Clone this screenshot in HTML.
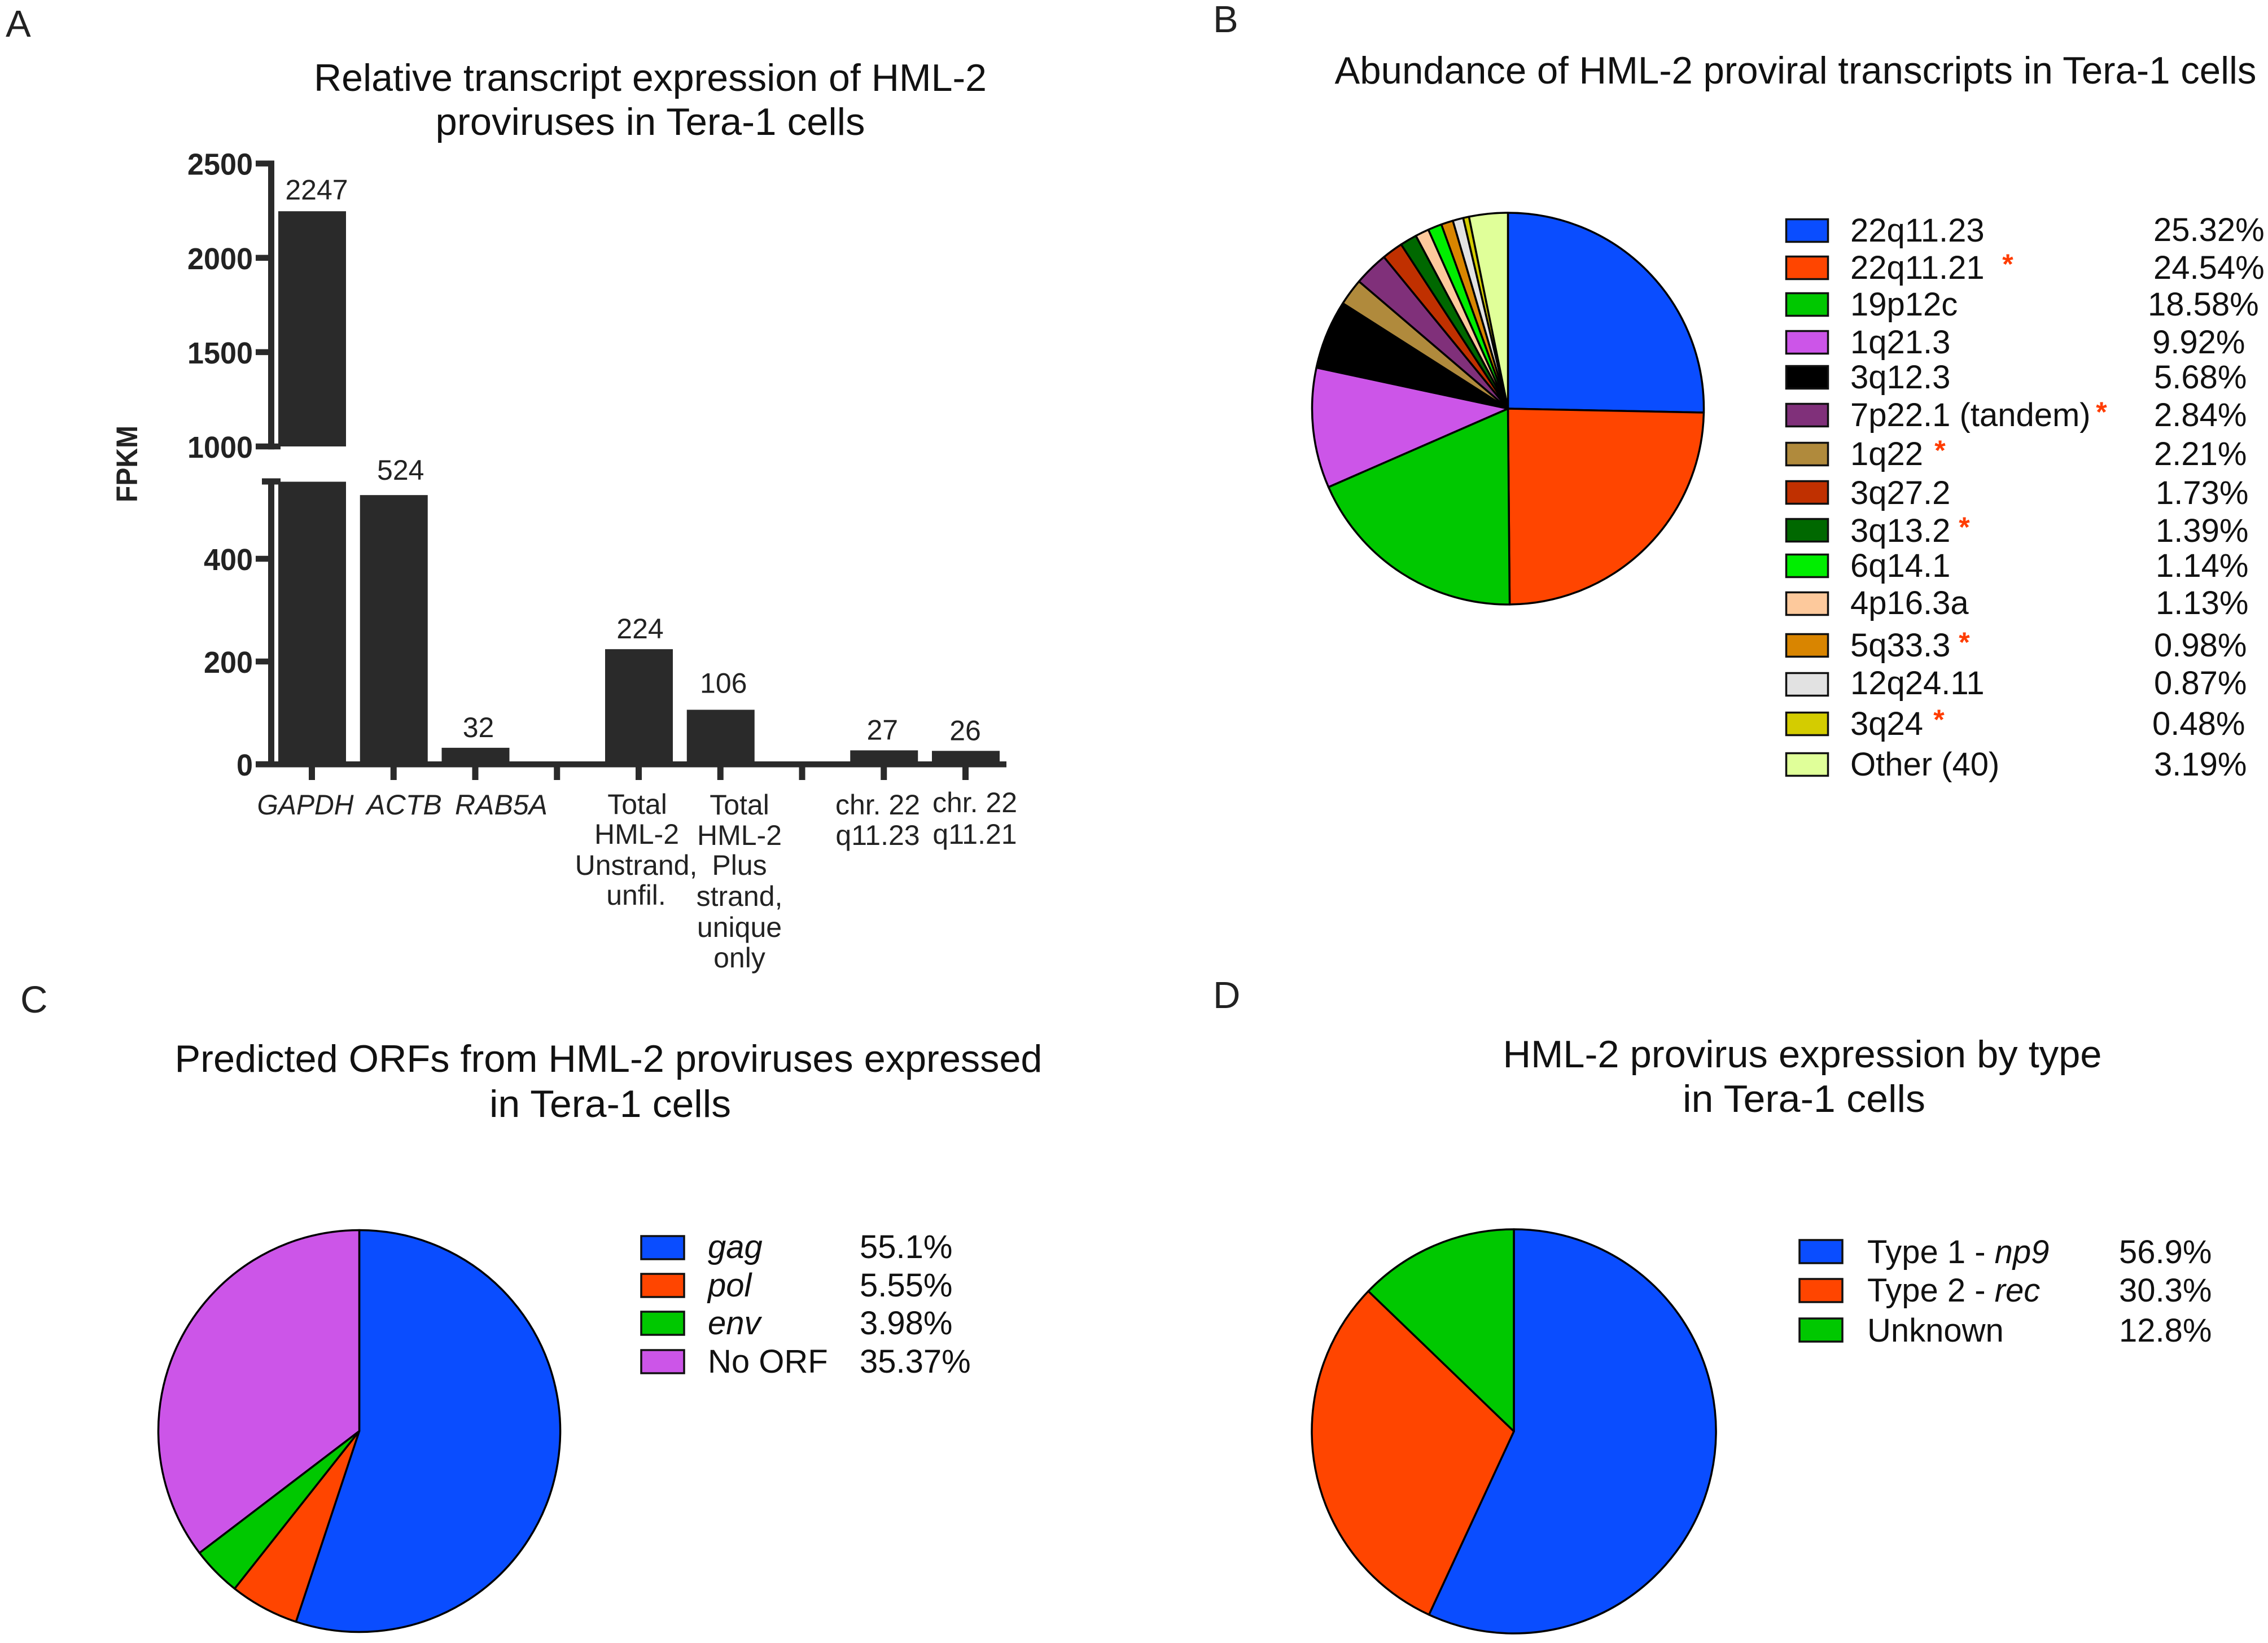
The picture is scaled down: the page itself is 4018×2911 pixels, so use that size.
<!DOCTYPE html>
<html lang="en">
<head>
<meta charset="utf-8">
<title>HML-2 provirus expression in Tera-1 cells</title>
<style>
html,body{margin:0;padding:0;background:#fff;}
svg{display:block;font-family:"Liberation Sans",Arial,sans-serif;}
.title{font-size:68px;fill:#111;text-anchor:middle;}
.panel{font-size:67px;fill:#222;}
.leg{font-size:58px;fill:#111;}
.val{font-size:50px;fill:#222;text-anchor:middle;}
.ylab{font-size:54px;font-weight:bold;fill:#222;text-anchor:end;}
.xlab{font-size:50px;fill:#222;text-anchor:middle;}
.it{font-style:italic;}
.sw{stroke:#111;stroke-width:3.5;}
.star{font-size:50px;font-weight:bold;fill:#ff3c00;text-anchor:middle;}
</style>
</head>
<body>
<svg xmlns="http://www.w3.org/2000/svg" width="4018" height="2911" viewBox="0 0 4018 2911">
<rect x="0" y="0" width="4018" height="2911" fill="#fff"/>

<text class="panel" x="10" y="65">A</text>
<text class="panel" x="2149" y="57">B</text>
<text class="panel" x="36" y="1794">C</text>
<text class="panel" x="2149" y="1786">D</text>

<text class="title" x="1152" y="161" textLength="1192" lengthAdjust="spacingAndGlyphs">Relative transcript expression of HML-2</text>
<text class="title" x="1152" y="239" textLength="761" lengthAdjust="spacingAndGlyphs">proviruses in Tera-1 cells</text>
<text class="title" x="3181" y="148" textLength="1633" lengthAdjust="spacingAndGlyphs">Abundance of HML-2 proviral transcripts in Tera-1 cells</text>
<text class="title" x="1078" y="1899" textLength="1537" lengthAdjust="spacingAndGlyphs">Predicted ORFs from HML-2 proviruses expressed</text>
<text class="title" x="1081" y="1979" textLength="428" lengthAdjust="spacingAndGlyphs">in Tera-1 cells</text>
<text class="title" x="3193" y="1891" textLength="1061" lengthAdjust="spacingAndGlyphs">HML-2 provirus expression by type</text>
<text class="title" x="3196" y="1970" textLength="430" lengthAdjust="spacingAndGlyphs">in Tera-1 cells</text>

<!-- Panel A -->
<g id="bars"></g>
<text transform="translate(243 822) rotate(-90)" font-size="53" font-weight="bold" fill="#222" text-anchor="middle" textLength="136" lengthAdjust="spacingAndGlyphs">FPKM</text>

<!-- Panel A x labels -->
<g>
<text class="xlab it" x="541" y="1443" textLength="171" lengthAdjust="spacingAndGlyphs">GAPDH</text>
<text class="xlab it" x="716" y="1443">ACTB</text>
<text class="xlab it" x="888" y="1443">RAB5A</text>
<text class="xlab"><tspan x="1129" y="1442">Total</tspan><tspan x="1128" y="1495">HML-2</tspan><tspan x="1127" y="1550">Unstrand,</tspan><tspan x="1127" y="1603">unfil.</tspan></text>
<text class="xlab"><tspan x="1310" y="1443">Total</tspan><tspan x="1310" y="1497">HML-2</tspan><tspan x="1310" y="1550">Plus</tspan><tspan x="1310" y="1605">strand,</tspan><tspan x="1310" y="1660">unique</tspan><tspan x="1310" y="1714">only</tspan></text>
<text class="xlab"><tspan x="1555" y="1443">chr. 22</tspan><tspan x="1555" y="1497">q11.23</tspan></text>
<text class="xlab"><tspan x="1727" y="1439">chr. 22</tspan><tspan x="1727" y="1495">q11.21</tspan></text>
</g>

<!-- Panel B -->
<g id="pieB"></g>
<g>
<g><rect class="sw" x="3164.5" y="388.5" width="74" height="40" fill="#0a4dff"/><text class="leg" x="3278" y="428">22q11.23</text><text class="leg" x="3815" y="427">25.32%</text></g>
<g><rect class="sw" x="3164.5" y="454.5" width="74" height="40" fill="#ff4500"/><text class="leg" x="3278" y="494">22q11.21</text><text class="star" x="3557" y="485">*</text><text class="leg" x="3815" y="494">24.54%</text></g>
<g><rect class="sw" x="3164.5" y="519.5" width="74" height="40" fill="#00c800"/><text class="leg" x="3278" y="559">19p12c</text><text class="leg" x="3805" y="559">18.58%</text></g>
<g><rect class="sw" x="3164.5" y="586.5" width="74" height="40" fill="#cc55e8"/><text class="leg" x="3278" y="626">1q21.3</text><text class="leg" x="3813" y="626">9.92%</text></g>
<g><rect class="sw" x="3164.5" y="648.5" width="74" height="40" fill="#000000"/><text class="leg" x="3278" y="688">3q12.3</text><text class="leg" x="3816" y="688">5.68%</text></g>
<g><rect class="sw" x="3164.5" y="715.5" width="74" height="40" fill="#80307a"/><text class="leg" x="3278" y="755">7p22.1 (tandem)</text><text class="star" x="3723" y="747">*</text><text class="leg" x="3816" y="755">2.84%</text></g>
<g><rect class="sw" x="3164.5" y="784.5" width="74" height="40" fill="#b08a3c"/><text class="leg" x="3278" y="824">1q22</text><text class="star" x="3437" y="815">*</text><text class="leg" x="3816" y="824">2.21%</text></g>
<g><rect class="sw" x="3164.5" y="852.5" width="74" height="40" fill="#c03000"/><text class="leg" x="3278" y="893">3q27.2</text><text class="leg" x="3819" y="893">1.73%</text></g>
<g><rect class="sw" x="3164.5" y="919.5" width="74" height="40" fill="#006800"/><text class="leg" x="3278" y="960">3q13.2</text><text class="star" x="3480" y="951">*</text><text class="leg" x="3819" y="960">1.39%</text></g>
<g><rect class="sw" x="3164.5" y="982.5" width="74" height="40" fill="#00ee00"/><text class="leg" x="3278" y="1022">6q14.1</text><text class="leg" x="3819" y="1022">1.14%</text></g>
<g><rect class="sw" x="3164.5" y="1049.5" width="74" height="40" fill="#fdc99c"/><text class="leg" x="3278" y="1088">4p16.3a</text><text class="leg" x="3819" y="1088">1.13%</text></g>
<g><rect class="sw" x="3164.5" y="1123.5" width="74" height="40" fill="#d98500"/><text class="leg" x="3278" y="1163">5q33.3</text><text class="star" x="3480" y="1155">*</text><text class="leg" x="3816" y="1163">0.98%</text></g>
<g><rect class="sw" x="3164.5" y="1192.5" width="74" height="40" fill="#e2e2e2"/><text class="leg" x="3278" y="1230">12q24.11</text><text class="leg" x="3816" y="1230">0.87%</text></g>
<g><rect class="sw" x="3164.5" y="1262.5" width="74" height="40" fill="#d4cc00"/><text class="leg" x="3278" y="1302">3q24</text><text class="star" x="3435" y="1292">*</text><text class="leg" x="3813" y="1302">0.48%</text></g>
<g><rect class="sw" x="3164.5" y="1334.5" width="74" height="40" fill="#e0ff99"/><text class="leg" x="3278" y="1374">Other (40)</text><text class="leg" x="3816" y="1374">3.19%</text></g>
</g>

<!-- Panel C -->
<g id="pieC"></g>
<g>
<g><rect class="sw" x="1136" y="2190" width="76" height="41" fill="#0a4dff"/><text class="leg it" x="1254" y="2229">gag</text><text class="leg" x="1523" y="2229">55.1%</text></g>
<g><rect class="sw" x="1136" y="2257" width="76" height="41" fill="#ff4500"/><text class="leg it" x="1254" y="2297">pol</text><text class="leg" x="1523" y="2297">5.55%</text></g>
<g><rect class="sw" x="1136" y="2324" width="76" height="41" fill="#00c800"/><text class="leg it" x="1254" y="2364">env</text><text class="leg" x="1523" y="2364">3.98%</text></g>
<g><rect class="sw" x="1136" y="2392" width="76" height="41" fill="#cc55e8"/><text class="leg" x="1254" y="2432">No ORF</text><text class="leg" x="1523" y="2432">35.37%</text></g>
</g>

<!-- Panel D -->
<g id="pieD"></g>
<g>
<g><rect class="sw" x="3188" y="2197" width="76" height="41" fill="#0a4dff"/><text class="leg" x="3308" y="2238">Type 1 - <tspan class="it">np9</tspan></text><text class="leg" x="3754" y="2238">56.9%</text></g>
<g><rect class="sw" x="3188" y="2266" width="76" height="41" fill="#ff4500"/><text class="leg" x="3308" y="2306">Type 2 - <tspan class="it">rec</tspan></text><text class="leg" x="3754" y="2306">30.3%</text></g>
<g><rect class="sw" x="3188" y="2336" width="76" height="41" fill="#00c800"/><text class="leg" x="3308" y="2377">Unknown</text><text class="leg" x="3754" y="2377">12.8%</text></g>
</g>
</svg>

<script>
// Panel A data
const barCategories = ["GAPDH", "ACTB", "RAB5A", "", "Total unstranded", "Total plus strand", "", "chr22 q11.23", "chr22 q11.21"];
const barValues = [2247, 524, 32, 0, 224, 106, 0, 27, 26];
const lowerTicks = [0, 200, 400];
const upperTicks = [1000, 1500, 2000, 2500];

// Panel B data, in clockwise slice order as drawn in the pie
const abundanceNames = ["22q11.23", "22q11.21", "19p12c", "1q21.3", "3q12.3", "1q22", "7p22.1", "3q27.2", "3q13.2", "4p16.3a", "6q14.1", "5q33.3", "12q24.11", "3q24", "Other"];
const abundanceValues = [25.32, 24.54, 18.58, 9.92, 5.68, 2.21, 2.84, 1.73, 1.39, 1.13, 1.14, 0.98, 0.87, 0.48, 3.19];
const abundanceColors = ["#0a4dff", "#ff4500", "#00c800", "#cc55e8", "#000000", "#b08a3c", "#80307a", "#c03000", "#006800", "#fdc99c", "#00ee00", "#d98500", "#e2e2e2", "#d4cc00", "#e0ff99"];

// Panel C data
const orfNames = ["gag", "pol", "env", "No ORF"];
const orfValues = [55.1, 5.55, 3.98, 35.37];
const orfColors = ["#0a4dff", "#ff4500", "#00c800", "#cc55e8"];

// Panel D data
const typeNames = ["Type 1", "Type 2", "Unknown"];
const typeValues = [56.9, 30.3, 12.8];
const typeColors = ["#0a4dff", "#ff4500", "#00c800"];

const SVGNS = "http://www.w3.org/2000/svg";
const INK = "#2a2a2a";
const slug = s => s.toLowerCase().replace(/[^a-z0-9]+/g, "-");

function make(tag, attrs, parent) {
  const el = document.createElementNS(SVGNS, tag);
  for (const k in attrs) el.setAttribute(k, attrs[k]);
  parent.appendChild(el);
  return el;
}

// Broken y axis: lower segment 0-550, upper segment 1000-2500
const breakLow = 550, breakHigh = 1000;
function yScale(v) {
  if (v <= breakLow) return 1354 - v * 0.91;
  if (v >= breakHigh) return 791 - (v - breakHigh) * 0.3342;
  return 1354 - breakLow * 0.91;
}
function xLeft(i) { return 493 + i * 144.75; }
function xTick(i) { return 552.5 + i * 144.75; }
const barW = 120;
const labelShift = { 0: [8, 21], 1: [12, 27], 2: [5, 19], 4: [2, 19], 5: [5, 30], 7: [-3, 19], 8: [-1, 19] };

function drawBars() {
  const g = document.getElementById("bars");
  barValues.forEach((v, i) => {
    if (v <= 0) return;
    const x = xLeft(i);
    if (v > breakHigh) {
      const upper = make("rect", { x: x, y: yScale(v), width: barW, height: yScale(breakHigh) - yScale(v), fill: INK }, g);
      
      
      const lower = make("rect", { x: x, y: yScale(breakLow), width: barW, height: yScale(0) - yScale(breakLow), fill: INK }, g);
      
      
    } else {
      const bar = make("rect", { x: x, y: yScale(v), width: barW, height: yScale(0) - yScale(v), fill: INK }, g);
      
      
    }
    const s = labelShift[i] || [0, 20];
    const t = make("text", { x: x + barW / 2 + s[0], y: yScale(v) - s[1], "class": "val" }, g);
    
    
    t.textContent = v;
  });

  // axes
  const yUp = make("rect", { x: 475, y: yScale(2500) - 5.25, width: 11, height: yScale(breakHigh) - yScale(2500) + 10.5, fill: INK }, g);
  
  
  const yLow = make("rect", { x: 475, y: yScale(breakLow) - 6, width: 11, height: yScale(0) - yScale(breakLow) + 6, fill: INK }, g);
  
  
  const capLow = make("rect", { x: 464, y: yScale(breakLow) - 6, width: 33, height: 11, fill: INK }, g);
  
  
  const xAxis = make("rect", { x: 453, y: yScale(0) - 5, width: 1330, height: 10.5, fill: INK }, g);
  
  

  lowerTicks.concat(upperTicks).forEach(v => {
    const isBreak = v === 1000;
    const tick = make("rect", { x: 453, y: yScale(v) - 5.25, width: isBreak ? 44 : 24, height: 10.5, fill: INK }, g);
    
    
    const lab = make("text", { x: 448, y: yScale(v) + 20, "class": "ylab", textLength: String(v).length * 29, lengthAdjust: "spacingAndGlyphs" }, g);
    
    
    lab.textContent = v;
  });

  barCategories.forEach((c, i) => {
    const tick = make("rect", { x: xTick(i) - 5.5, y: yScale(0), width: 11, height: 28, fill: INK }, g);
    
    
  });
}

function drawPie(id, cx, cy, r, values, colors, names) {
  const g = document.getElementById(id);
  const total = values.reduce((a, b) => a + b, 0);
  let acc = 0;
  values.forEach((v, i) => {
    const a0 = acc / total * 2 * Math.PI;
    acc += v;
    const a1 = acc / total * 2 * Math.PI;
    const x0 = cx + r * Math.sin(a0), y0 = cy - r * Math.cos(a0);
    const x1 = cx + r * Math.sin(a1), y1 = cy - r * Math.cos(a1);
    const large = a1 - a0 > Math.PI ? 1 : 0;
    const d = `M${cx} ${cy}L${x0} ${y0}A${r} ${r} 0 ${large} 1 ${x1} ${y1}Z`;
    const p = make("path", { d: d, fill: colors[i], stroke: "#000", "stroke-width": 3.5, "stroke-linejoin": "round" }, g);
    
    
  });
}

drawBars();
drawPie("pieB", 2671.5, 724, 347, abundanceValues, abundanceColors, abundanceNames);
drawPie("pieC", 636.5, 2535.5, 356, orfValues, orfColors, orfNames);
drawPie("pieD", 2682, 2536, 358, typeValues, typeColors, typeNames);
</script>
</body>
</html>
